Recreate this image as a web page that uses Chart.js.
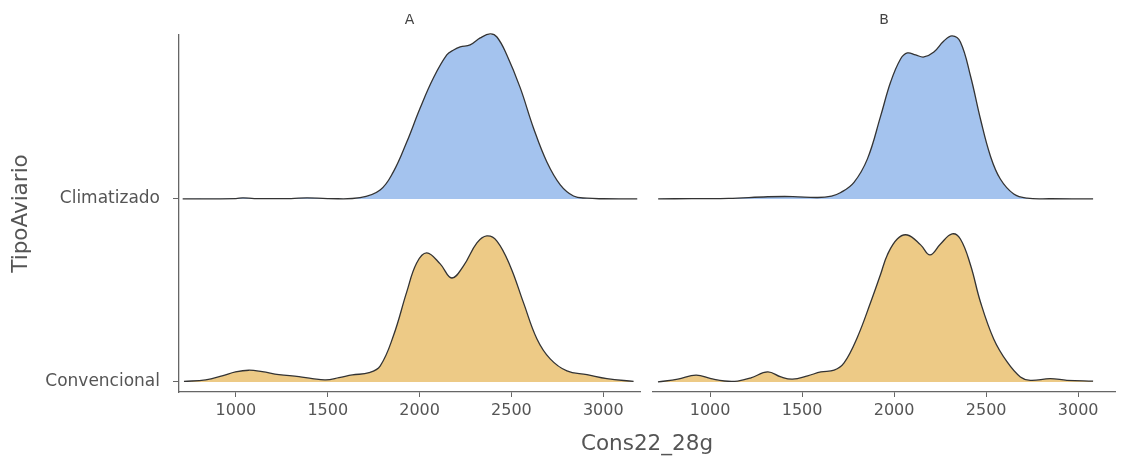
<!DOCTYPE html>
<html>
<head>
<meta charset="utf-8">
<script src="https://cdn.jsdelivr.net/npm/chart.js@4.4.1/dist/chart.umd.min.js"></script>
<style>
  html, body { margin: 0; padding: 0; background: #fff; }
  #wrap { position: relative; width: 1121px; height: 463px; overflow: hidden; }
  #wrap canvas { position: absolute; left: 0; top: 0; }
</style>
</head>
<body>
<div id="wrap">
  <canvas id="facetA" width="1121" height="463"></canvas>
  <canvas id="facetB" width="1121" height="463"></canvas>
</div>
<script>
// ridges: index 0 = bottom ridge, 1 = top ridge
const facets = ['A', 'B'];
const tipos = ['Convencional', 'Climatizado'];
const xTicks = [1000, 1500, 2000, 2500, 3000];

// ridge heights (density scaled to ridge spacing)
const climAx = [710, 1000, 1038, 1100, 1300, 1387, 1500, 1676, 1785, 1857, 1930, 2003, 2075, 2148, 2185, 2221, 2275, 2330, 2384, 2421, 2475, 2548, 2620, 2693, 2766, 2838, 2911, 3000, 3185];
const climAh = [0, 0.002, 0.006, 0.002, 0.002, 0.006, 0.002, 0.007, 0.049, 0.148, 0.311, 0.497, 0.661, 0.787, 0.814, 0.831, 0.842, 0.880, 0.902, 0.885, 0.787, 0.607, 0.388, 0.202, 0.077, 0.016, 0.004, 0.001, 0];

const convAx = [717, 835, 925, 998, 1071, 1143, 1234, 1343, 1416, 1489, 1561, 1634, 1725, 1785, 1857, 1930, 1984, 2039, 2112, 2175, 2239, 2312, 2366, 2421, 2493, 2566, 2639, 2711, 2802, 2911, 3020, 3165];
const convAh = [0.003, 0.011, 0.033, 0.055, 0.064, 0.056, 0.040, 0.029, 0.018, 0.011, 0.023, 0.038, 0.051, 0.087, 0.251, 0.492, 0.650, 0.705, 0.645, 0.568, 0.634, 0.760, 0.798, 0.770, 0.634, 0.432, 0.235, 0.126, 0.060, 0.040, 0.018, 0.003];

const climBx = [718, 900, 1100, 1314, 1450, 1585, 1660, 1710, 1782, 1855, 1927, 1981, 2035, 2072, 2117, 2162, 2216, 2270, 2315, 2360, 2415, 2469, 2523, 2577, 2650, 2722, 2850, 3081];
const climBh = [0, 0.002, 0.003, 0.012, 0.013, 0.008, 0.016, 0.035, 0.091, 0.219, 0.454, 0.639, 0.765, 0.798, 0.787, 0.776, 0.803, 0.863, 0.891, 0.858, 0.672, 0.437, 0.235, 0.109, 0.027, 0.004, 0.001, 0];

const convBx = [717, 825, 924, 1005, 1078, 1150, 1222, 1313, 1385, 1448, 1530, 1602, 1674, 1728, 1801, 1873, 1927, 1963, 2017, 2072, 2144, 2195, 2252, 2315, 2360, 2415, 2469, 2541, 2614, 2686, 2740, 2848, 2939, 3081];
const convBh = [0, 0.015, 0.037, 0.018, 0.005, 0.005, 0.022, 0.055, 0.027, 0.015, 0.033, 0.055, 0.064, 0.104, 0.246, 0.437, 0.590, 0.694, 0.781, 0.803, 0.749, 0.694, 0.754, 0.809, 0.781, 0.639, 0.437, 0.235, 0.109, 0.027, 0.009, 0.018, 0.009, 0.004];

Chart.defaults.font.family = '"DejaVu Sans", sans-serif';
const axisGrey = '#666';
const textGrey = '#555';

function ridge(label, xs, hs, base, fillColor) {
  return {
    label: label,
    data: xs.map((x, i) => ({ x: x, y: base + hs[i] })),
    borderColor: '#333',
    borderWidth: 1.3,
    backgroundColor: fillColor,
    fill: { value: base },
    pointRadius: 0,
    tension: 0.4,
    clip: false
  };
}

let chartA;

const axisTitle = {
  id: 'axisTitle',
  afterDraw(chart) {
    const ctx = chart.ctx;
    const cx = (chartA.chartArea.left + chart.chartArea.right) / 2;
    ctx.save();
    ctx.font = '21.5px "DejaVu Sans", sans-serif';
    ctx.fillStyle = textGrey;
    ctx.textAlign = 'center';
    ctx.textBaseline = 'alphabetic';
    ctx.fillText('Cons22_28g', cx, chart.chartArea.bottom + 58);
    ctx.restore();
  }
};

function makeFacet(id, facet, clim, conv, first) {
  return new Chart(document.getElementById(id), {
    type: 'line',
    data: {
      datasets: [
        ridge(tipos[1], clim[0], clim[1], 1, '#A4C3EE'),
        ridge(tipos[0], conv[0], conv[1], 0, '#EDCA86')
      ]
    },
    options: {
      responsive: false,
      animation: false,
      events: [],
      layout: { padding: first ? { left: 0, right: 481 } : { left: 653, right: 6 } },
      plugins: {
        legend: { display: false },
        tooltip: { enabled: false },
        title: {
          display: true,
          text: facet,
          fullSize: false,
          color: '#444',
          font: { size: 14, weight: 'normal' },
          padding: { top: 12, bottom: 6.2 }
        }
      },
      scales: {
        x: {
          type: 'linear',
          min: 690,
          max: 3200,
          afterBuildTicks: s => { s.ticks = xTicks.map(v => ({ value: v })); },
          afterFit: s => { s.height = 71; },
          ticks: { color: textGrey, font: { size: 16 }, padding: 4, callback: v => String(v) },
          grid: { drawOnChartArea: false, tickLength: 5, color: axisGrey },
          border: { color: axisGrey, width: 1.3 }
        },
        y: {
          type: 'linear',
          display: first,
          min: -0.055,
          max: 1.896,
          afterBuildTicks: s => { s.ticks = [{ value: 0 }, { value: 1 }]; },
          afterFit: s => { s.width = first ? 179 : 0; },
          ticks: { color: textGrey, font: { size: 17 }, padding: 13, callback: v => tipos[v] },
          grid: { drawOnChartArea: false, tickLength: 6, color: axisGrey },
          border: { color: axisGrey, width: 1.3 },
          title: {
            display: true,
            text: 'TipoAviario',
            color: textGrey,
            font: { size: 21.5 },
            padding: { top: 9, bottom: 0 }
          }
        }
      }
    },
    plugins: first ? [] : [axisTitle]
  });
}

chartA = makeFacet('facetA', facets[0], [climAx, climAh], [convAx, convAh], true);
makeFacet('facetB', facets[1], [climBx, climBh], [convBx, convBh], false);
</script>
</body>
</html>
